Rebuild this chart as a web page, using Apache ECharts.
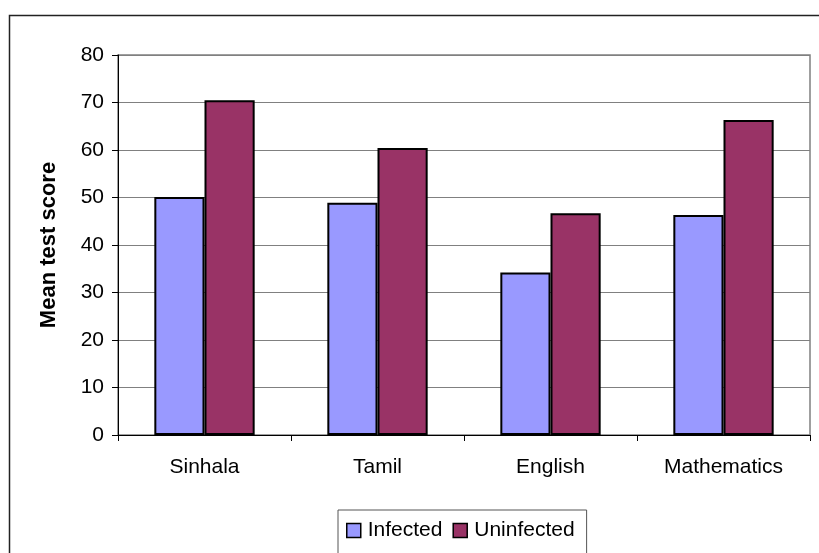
<!DOCTYPE html>
<html>
<head>
<meta charset="utf-8">
<script src="https://cdn.jsdelivr.net/npm/echarts@6/dist/echarts.min.js"></script>
<style>
  html, body { margin: 0; padding: 0; background: #fff; }
  #chart { width: 819px; height: 553px; }
</style>
</head>
<body>
<div id="chart"></div>
<script>
// Mean test scores by subject, infected vs uninfected children
const subjects = ['Sinhala', 'Tamil', 'English', 'Mathematics'];
const infected = [50.1, 48.9, 34.2, 46.3];
const uninfected = [70.5, 60.4, 46.7, 66.3];
const yTicks = [0, 80, 10]; // min, max, interval

const FONT = 'Arial, "Liberation Sans", sans-serif';
const chart = echarts.init(document.getElementById('chart'), null, { renderer: 'canvas' });

chart.setOption({
  backgroundColor: '#ffffff',
  animation: false,
  textStyle: { fontFamily: FONT },
  graphic: [
    {
      // outer chart frame
      type: 'rect',
      shape: { x: 9.5, y: 15.5, width: 840, height: 600 },
      style: { fill: 'none', stroke: '#222', lineWidth: 1.5 },
      silent: true,
      z: -1
    }
  ],
  grid: {
    left: 118, right: 9, top: 55, bottom: 118,
    show: true, borderColor: '#808080', borderWidth: 1.5, backgroundColor: 'transparent'
  },
  legend: {
    left: 338, top: 510,
    orient: 'horizontal',
    padding: [10, 12, 24, 8],
    borderColor: '#555', borderWidth: 1,
    itemWidth: 14, itemHeight: 14, itemGap: 10,
    icon: 'rect',
    itemStyle: { borderColor: '#000', borderWidth: 1.5 },
    textStyle: { fontFamily: FONT, fontSize: 21, color: '#000', padding: [0, 0, 0, 2] },
    data: ['Infected', 'Uninfected']
  },
  xAxis: {
    type: 'category',
    data: subjects,
    axisLine: { lineStyle: { color: '#000', width: 1 } },
    axisTick: { show: true, length: 6, lineStyle: { color: '#000' } },
    axisLabel: { fontFamily: FONT, fontSize: 21, color: '#000', margin: 22 },
    splitLine: { show: false }
  },
  yAxis: {
    type: 'value',
    min: yTicks[0], max: yTicks[1], interval: yTicks[2],
    name: 'Mean test score',
    nameLocation: 'middle',
    nameGap: 58,
    nameRotate: 90,
    nameTextStyle: { fontFamily: FONT, fontSize: 22, fontWeight: 'bold', color: '#000' },
    axisLine: { show: true, lineStyle: { color: '#000', width: 1 } },
    axisTick: { show: true, length: 6, inside: false, lineStyle: { color: '#000' } },
    axisLabel: { fontFamily: FONT, fontSize: 21, color: '#000', margin: 14 },
    splitLine: { show: true, lineStyle: { color: '#808080', width: 1 } }
  },
  series: [
    {
      name: 'Infected',
      type: 'bar',
      data: infected,
      barGap: '0%',
      barCategoryGap: '42%',
      itemStyle: { color: '#9999FF', borderColor: '#000', borderWidth: 2 }
    },
    {
      name: 'Uninfected',
      type: 'bar',
      data: uninfected,
      barGap: '0%',
      barCategoryGap: '42%',
      itemStyle: { color: '#993366', borderColor: '#000', borderWidth: 2 }
    }
  ]
});
</script>
</body>
</html>
